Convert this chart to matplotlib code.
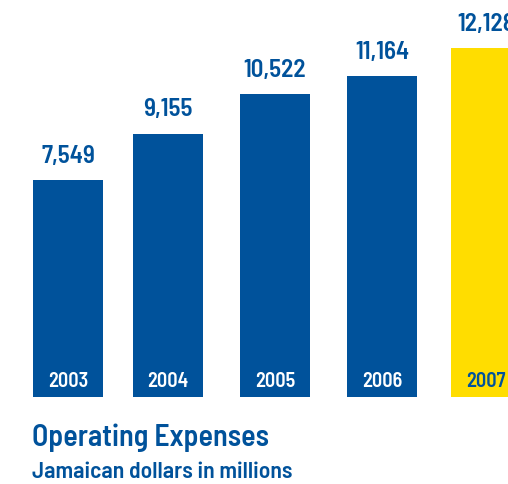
import matplotlib.pyplot as plt

years = ["2003", "2004", "2005", "2006", "2007"]
expenses = [7549, 9155, 10522, 11164, 12128]

BLUE = "#00529b"
YELLOW = "#ffdd00"
FONT = ["Barlow Semi Condensed", "DejaVu Sans"]


def main():
    """Histogramme des charges d'exploitation 2003-2007"""
    W, H = 508, 484
    base = 397
    fig = plt.figure(figsize=(W / 100, H / 100), dpi=100)
    ax = fig.add_axes([0, (H - base) / H, 1, base / H])
    ax.set_xlim(0, W)
    ax.set_ylim(0, base / 0.02875)
    ax.axis("off")

    centers = [68, 168, 275, 382, 486]
    colors = [BLUE] * 4 + [YELLOW]
    bars = ax.bar(centers, expenses, width=70, color=colors)

    for bar, year, val, c in zip(bars, years, expenses, colors):
        x = bar.get_x() + bar.get_width() / 2
        ax.annotate(f"{val:,}", (x, val), xytext=(0, 12.5),
                    textcoords="offset points", ha="center", va="baseline",
                    fontsize=18, fontweight=600, color=BLUE,
                    family=FONT, annotation_clip=False)
        ax.annotate(year, (x, 0), xytext=(0, 7.5), textcoords="offset points",
                    ha="center", va="baseline", fontsize=14.5,
                    fontweight=600,
                    color="white" if c == BLUE else BLUE, family=FONT)

    fig.text(32 / W, 1 - 446 / H, "Operating Expenses", fontsize=21.5,
             fontweight=600, color=BLUE, family=FONT, va="baseline")
    fig.text(32 / W, 1 - 478 / H, "Jamaican dollars in millions",
             fontsize=17, fontweight=600, color=BLUE, family=FONT,
             va="baseline")
    fig.savefig("out.png", dpi=100)


if __name__ == "__main__":
    main()
